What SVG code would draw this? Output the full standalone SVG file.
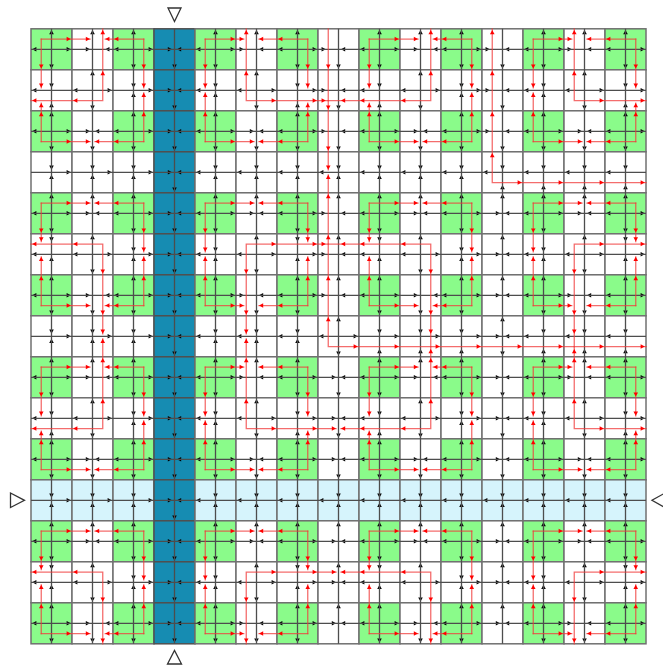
<svg xmlns="http://www.w3.org/2000/svg" width="663" height="667" viewBox="0 0 663 667">
<style>
.bl{stroke:#4d4d4d;stroke-width:1.3;fill:none}
.rl{stroke:#f03c3c;stroke-opacity:.75;stroke-width:1.3;fill:none;stroke-linecap:square}
.tri{fill:#fff;stroke:#333;stroke-width:1.3}
</style>
<defs>
<path id="r" d="M0,0l-4.2,-2.3v4.6z"/>
<path id="l" d="M0,0l4.2,-2.3v4.6z"/>
<path id="d" d="M0,0l-2.3,-4.2h4.6z"/>
<path id="u" d="M0,0l-2.3,4.2h4.6z"/>
<rect id="sg" width="41" height="41" fill="#8afb8a" stroke="#707070" stroke-width="1.5"/>
<rect id="sw" width="41" height="41" fill="#ffffff" stroke="#707070" stroke-width="1.5"/>
<rect id="sb" width="41" height="41" fill="#168cb2" stroke="#505050" stroke-width="1.5"/>
<rect id="sl" width="41" height="41" fill="#d6f4fc" stroke="#707070" stroke-width="1.5"/>
<g id="o4"><use href="#u" x="20.5" y="1.2"/><use href="#d" x="20.5" y="39.8"/><use href="#l" x="1.2" y="20.5"/><use href="#r" x="39.8" y="20.5"/></g>
<g id="L7"><use href="#u" x="20.5" y="1.2"/><use href="#d" x="20.5" y="39.8"/><use href="#r" x="18" y="20.5"/><use href="#l" x="23" y="20.5"/></g>
<g id="CN"><use href="#u" x="20.5" y="1.2"/><use href="#r" x="18" y="20.5"/><use href="#l" x="23" y="20.5"/></g>
<g id="CNe"><use href="#u" x="20.5" y="1.2"/><use href="#r" x="18" y="20.5"/><use href="#l" x="33.25" y="20.5"/></g>
<g id="CNw"><use href="#u" x="20.5" y="1.2"/><use href="#r" x="7.75" y="20.5"/><use href="#l" x="23" y="20.5"/></g>
<g id="CS"><use href="#d" x="20.5" y="39.8"/><use href="#r" x="18" y="20.5"/><use href="#l" x="23" y="20.5"/></g>
<g id="CSe"><use href="#d" x="20.5" y="39.8"/><use href="#r" x="18" y="20.5"/><use href="#l" x="33.25" y="20.5"/></g>
<g id="CSw"><use href="#d" x="20.5" y="39.8"/><use href="#r" x="7.75" y="20.5"/><use href="#l" x="23" y="20.5"/></g>
<g id="DW"><use href="#l" x="1.2" y="20.5"/><use href="#d" x="20.5" y="18"/><use href="#u" x="20.5" y="23"/></g>
<g id="DWs"><use href="#l" x="1.2" y="20.5"/><use href="#d" x="20.5" y="18"/><use href="#u" x="20.5" y="33.25"/></g>
<g id="DWn"><use href="#l" x="1.2" y="20.5"/><use href="#d" x="20.5" y="7.75"/><use href="#u" x="20.5" y="23"/></g>
<g id="DE"><use href="#r" x="39.8" y="20.5"/><use href="#d" x="20.5" y="18"/><use href="#u" x="20.5" y="23"/></g>
<g id="DEs"><use href="#r" x="39.8" y="20.5"/><use href="#d" x="20.5" y="18"/><use href="#u" x="20.5" y="33.25"/></g>
<g id="DEn"><use href="#r" x="39.8" y="20.5"/><use href="#d" x="20.5" y="7.75"/><use href="#u" x="20.5" y="23"/></g>
<g id="HR"><path class="rl" d="M0,0H48.75"/><use href="#r" x="29.55"/><use href="#r" x="48.75"/></g>
<g id="HRs"><path class="rl" d="M0,0H38.5"/><use href="#r" x="29.55"/><use href="#r" x="38.5"/></g>
<g id="HL"><path class="rl" d="M0,0H-48.75"/><use href="#l" x="-29.55"/><use href="#l" x="-48.75"/></g>
<g id="HLs"><path class="rl" d="M0,0H-38.5"/><use href="#l" x="-29.55"/><use href="#l" x="-38.5"/></g>
<g id="VD"><path class="rl" d="M0,0V48.75"/><use href="#d" y="29.55"/><use href="#d" y="48.75"/></g>
<g id="VDs"><path class="rl" d="M0,0V38.5"/><use href="#d" y="29.55"/><use href="#d" y="38.5"/></g>
<g id="VU"><path class="rl" d="M0,0V-48.75"/><use href="#u" y="-29.55"/><use href="#u" y="-48.75"/></g>
<g id="VUs"><path class="rl" d="M0,0V-38.5"/><use href="#u" y="-29.55"/><use href="#u" y="-38.5"/></g>
</defs>
<rect width="663" height="667" fill="#ffffff"/>
<g transform="translate(31,28.8)">
<g id="cells">
<g id="n0-0" transform="translate(0,0)"><use href="#sg"/><use href="#o4"/></g>
<g id="n0-1" transform="translate(41,0)"><use href="#sw"/><use href="#CNe"/></g>
<g id="n0-2" transform="translate(82,0)"><use href="#sg"/><use href="#o4"/></g>
<g id="n0-3" transform="translate(123,0)"><use href="#sb"/><use href="#CS"/></g>
<g id="n0-4" transform="translate(164,0)"><use href="#sg"/><use href="#o4"/></g>
<g id="n0-5" transform="translate(205,0)"><use href="#sw"/><use href="#CNw"/></g>
<g id="n0-6" transform="translate(246,0)"><use href="#sg"/><use href="#o4"/></g>
<g id="n0-7" transform="translate(287,0)"><use href="#sw"/><use href="#CSw"/></g>
<g id="n0-8" transform="translate(328,0)"><use href="#sg"/><use href="#o4"/></g>
<g id="n0-9" transform="translate(369,0)"><use href="#sw"/><use href="#CNe"/></g>
<g id="n0-10" transform="translate(410,0)"><use href="#sg"/><use href="#o4"/></g>
<g id="n0-11" transform="translate(451,0)"><use href="#sw"/><use href="#CSw"/></g>
<g id="n0-12" transform="translate(492,0)"><use href="#sg"/><use href="#o4"/></g>
<g id="n0-13" transform="translate(533,0)"><use href="#sw"/><use href="#CNw"/></g>
<g id="n0-14" transform="translate(574,0)"><use href="#sg"/><use href="#o4"/></g>
<g id="n1-0" transform="translate(0,41)"><use href="#sw"/><use href="#DWs"/></g>
<g id="n1-1" transform="translate(41,41)"><use href="#sw"/><use href="#o4"/></g>
<g id="n1-2" transform="translate(82,41)"><use href="#sw"/><use href="#DE"/></g>
<g id="n1-3" transform="translate(123,41)"><use href="#sb"/><use href="#CS"/></g>
<g id="n1-4" transform="translate(164,41)"><use href="#sw"/><use href="#DW"/></g>
<g id="n1-5" transform="translate(205,41)"><use href="#sw"/><use href="#o4"/></g>
<g id="n1-6" transform="translate(246,41)"><use href="#sw"/><use href="#DEs"/></g>
<g id="n1-7" transform="translate(287,41)"><use href="#sw"/><use href="#CSw"/></g>
<g id="n1-8" transform="translate(328,41)"><use href="#sw"/><use href="#DWs"/></g>
<g id="n1-9" transform="translate(369,41)"><use href="#sw"/><use href="#o4"/></g>
<g id="n1-10" transform="translate(410,41)"><use href="#sw"/><use href="#DE"/></g>
<g id="n1-11" transform="translate(451,41)"><use href="#sw"/><use href="#CSw"/></g>
<g id="n1-12" transform="translate(492,41)"><use href="#sw"/><use href="#DW"/></g>
<g id="n1-13" transform="translate(533,41)"><use href="#sw"/><use href="#o4"/></g>
<g id="n1-14" transform="translate(574,41)"><use href="#sw"/><use href="#DEs"/></g>
<g id="n2-0" transform="translate(0,82)"><use href="#sg"/><use href="#o4"/></g>
<g id="n2-1" transform="translate(41,82)"><use href="#sw"/><use href="#CS"/></g>
<g id="n2-2" transform="translate(82,82)"><use href="#sg"/><use href="#o4"/></g>
<g id="n2-3" transform="translate(123,82)"><use href="#sb"/><use href="#CS"/></g>
<g id="n2-4" transform="translate(164,82)"><use href="#sg"/><use href="#o4"/></g>
<g id="n2-5" transform="translate(205,82)"><use href="#sw"/><use href="#CS"/></g>
<g id="n2-6" transform="translate(246,82)"><use href="#sg"/><use href="#o4"/></g>
<g id="n2-7" transform="translate(287,82)"><use href="#sw"/><use href="#CSw"/></g>
<g id="n2-8" transform="translate(328,82)"><use href="#sg"/><use href="#o4"/></g>
<g id="n2-9" transform="translate(369,82)"><use href="#sw"/><use href="#CS"/></g>
<g id="n2-10" transform="translate(410,82)"><use href="#sg"/><use href="#o4"/></g>
<g id="n2-11" transform="translate(451,82)"><use href="#sw"/><use href="#CSw"/></g>
<g id="n2-12" transform="translate(492,82)"><use href="#sg"/><use href="#o4"/></g>
<g id="n2-13" transform="translate(533,82)"><use href="#sw"/><use href="#CS"/></g>
<g id="n2-14" transform="translate(574,82)"><use href="#sg"/><use href="#o4"/></g>
<g id="n3-0" transform="translate(0,123)"><use href="#sw"/><use href="#DE"/></g>
<g id="n3-1" transform="translate(41,123)"><use href="#sw"/><use href="#DE"/></g>
<g id="n3-2" transform="translate(82,123)"><use href="#sw"/><use href="#DE"/></g>
<g id="n3-3" transform="translate(123,123)"><use href="#sb"/><use href="#CS"/></g>
<g id="n3-4" transform="translate(164,123)"><use href="#sw"/><use href="#DW"/></g>
<g id="n3-5" transform="translate(205,123)"><use href="#sw"/><use href="#DW"/></g>
<g id="n3-6" transform="translate(246,123)"><use href="#sw"/><use href="#DW"/></g>
<g id="n3-7" transform="translate(287,123)"><use href="#sw"/><use href="#DW"/></g>
<g id="n3-8" transform="translate(328,123)"><use href="#sw"/><use href="#DW"/></g>
<g id="n3-9" transform="translate(369,123)"><use href="#sw"/><use href="#DW"/></g>
<g id="n3-10" transform="translate(410,123)"><use href="#sw"/><use href="#DW"/></g>
<g id="n3-11" transform="translate(451,123)"><use href="#sw"/><use href="#DWs"/></g>
<g id="n3-12" transform="translate(492,123)"><use href="#sw"/><use href="#DWs"/></g>
<g id="n3-13" transform="translate(533,123)"><use href="#sw"/><use href="#DWs"/></g>
<g id="n3-14" transform="translate(574,123)"><use href="#sw"/><use href="#DWs"/></g>
<g id="n4-0" transform="translate(0,164)"><use href="#sg"/><use href="#o4"/></g>
<g id="n4-1" transform="translate(41,164)"><use href="#sw"/><use href="#CN"/></g>
<g id="n4-2" transform="translate(82,164)"><use href="#sg"/><use href="#o4"/></g>
<g id="n4-3" transform="translate(123,164)"><use href="#sb"/><use href="#CS"/></g>
<g id="n4-4" transform="translate(164,164)"><use href="#sg"/><use href="#o4"/></g>
<g id="n4-5" transform="translate(205,164)"><use href="#sw"/><use href="#CN"/></g>
<g id="n4-6" transform="translate(246,164)"><use href="#sg"/><use href="#o4"/></g>
<g id="n4-7" transform="translate(287,164)"><use href="#sw"/><use href="#CNw"/></g>
<g id="n4-8" transform="translate(328,164)"><use href="#sg"/><use href="#o4"/></g>
<g id="n4-9" transform="translate(369,164)"><use href="#sw"/><use href="#CN"/></g>
<g id="n4-10" transform="translate(410,164)"><use href="#sg"/><use href="#o4"/></g>
<g id="n4-11" transform="translate(451,164)"><use href="#sw"/><use href="#CN"/></g>
<g id="n4-12" transform="translate(492,164)"><use href="#sg"/><use href="#o4"/></g>
<g id="n4-13" transform="translate(533,164)"><use href="#sw"/><use href="#CN"/></g>
<g id="n4-14" transform="translate(574,164)"><use href="#sg"/><use href="#o4"/></g>
<g id="n5-0" transform="translate(0,205)"><use href="#sw"/><use href="#DWn"/></g>
<g id="n5-1" transform="translate(41,205)"><use href="#sw"/><use href="#o4"/></g>
<g id="n5-2" transform="translate(82,205)"><use href="#sw"/><use href="#DE"/></g>
<g id="n5-3" transform="translate(123,205)"><use href="#sb"/><use href="#CS"/></g>
<g id="n5-4" transform="translate(164,205)"><use href="#sw"/><use href="#DW"/></g>
<g id="n5-5" transform="translate(205,205)"><use href="#sw"/><use href="#o4"/></g>
<g id="n5-6" transform="translate(246,205)"><use href="#sw"/><use href="#DEn"/></g>
<g id="n5-7" transform="translate(287,205)"><use href="#sw"/><use href="#CNw"/></g>
<g id="n5-8" transform="translate(328,205)"><use href="#sw"/><use href="#DWn"/></g>
<g id="n5-9" transform="translate(369,205)"><use href="#sw"/><use href="#o4"/></g>
<g id="n5-10" transform="translate(410,205)"><use href="#sw"/><use href="#DE"/></g>
<g id="n5-11" transform="translate(451,205)"><use href="#sw"/><use href="#CN"/></g>
<g id="n5-12" transform="translate(492,205)"><use href="#sw"/><use href="#DW"/></g>
<g id="n5-13" transform="translate(533,205)"><use href="#sw"/><use href="#o4"/></g>
<g id="n5-14" transform="translate(574,205)"><use href="#sw"/><use href="#DEn"/></g>
<g id="n6-0" transform="translate(0,246)"><use href="#sg"/><use href="#o4"/></g>
<g id="n6-1" transform="translate(41,246)"><use href="#sw"/><use href="#CSe"/></g>
<g id="n6-2" transform="translate(82,246)"><use href="#sg"/><use href="#o4"/></g>
<g id="n6-3" transform="translate(123,246)"><use href="#sb"/><use href="#CS"/></g>
<g id="n6-4" transform="translate(164,246)"><use href="#sg"/><use href="#o4"/></g>
<g id="n6-5" transform="translate(205,246)"><use href="#sw"/><use href="#CSw"/></g>
<g id="n6-6" transform="translate(246,246)"><use href="#sg"/><use href="#o4"/></g>
<g id="n6-7" transform="translate(287,246)"><use href="#sw"/><use href="#CNw"/></g>
<g id="n6-8" transform="translate(328,246)"><use href="#sg"/><use href="#o4"/></g>
<g id="n6-9" transform="translate(369,246)"><use href="#sw"/><use href="#CSe"/></g>
<g id="n6-10" transform="translate(410,246)"><use href="#sg"/><use href="#o4"/></g>
<g id="n6-11" transform="translate(451,246)"><use href="#sw"/><use href="#CN"/></g>
<g id="n6-12" transform="translate(492,246)"><use href="#sg"/><use href="#o4"/></g>
<g id="n6-13" transform="translate(533,246)"><use href="#sw"/><use href="#CSw"/></g>
<g id="n6-14" transform="translate(574,246)"><use href="#sg"/><use href="#o4"/></g>
<g id="n7-0" transform="translate(0,287)"><use href="#sw"/><use href="#DE"/></g>
<g id="n7-1" transform="translate(41,287)"><use href="#sw"/><use href="#DE"/></g>
<g id="n7-2" transform="translate(82,287)"><use href="#sw"/><use href="#DE"/></g>
<g id="n7-3" transform="translate(123,287)"><use href="#sb"/><use href="#CS"/></g>
<g id="n7-4" transform="translate(164,287)"><use href="#sw"/><use href="#DW"/></g>
<g id="n7-5" transform="translate(205,287)"><use href="#sw"/><use href="#DW"/></g>
<g id="n7-6" transform="translate(246,287)"><use href="#sw"/><use href="#DW"/></g>
<g id="n7-7" transform="translate(287,287)"><use href="#sw"/><use href="#o4"/></g>
<g id="n7-8" transform="translate(328,287)"><use href="#sw"/><use href="#DEs"/></g>
<g id="n7-9" transform="translate(369,287)"><use href="#sw"/><use href="#DEs"/></g>
<g id="n7-10" transform="translate(410,287)"><use href="#sw"/><use href="#DEs"/></g>
<g id="n7-11" transform="translate(451,287)"><use href="#sw"/><use href="#L7"/></g>
<g id="n7-12" transform="translate(492,287)"><use href="#sw"/><use href="#DWs"/></g>
<g id="n7-13" transform="translate(533,287)"><use href="#sw"/><use href="#DWs"/></g>
<g id="n7-14" transform="translate(574,287)"><use href="#sw"/><use href="#DWs"/></g>
<g id="n8-0" transform="translate(0,328)"><use href="#sg"/><use href="#o4"/></g>
<g id="n8-1" transform="translate(41,328)"><use href="#sw"/><use href="#CNe"/></g>
<g id="n8-2" transform="translate(82,328)"><use href="#sg"/><use href="#o4"/></g>
<g id="n8-3" transform="translate(123,328)"><use href="#sb"/><use href="#CS"/></g>
<g id="n8-4" transform="translate(164,328)"><use href="#sg"/><use href="#o4"/></g>
<g id="n8-5" transform="translate(205,328)"><use href="#sw"/><use href="#CNw"/></g>
<g id="n8-6" transform="translate(246,328)"><use href="#sg"/><use href="#o4"/></g>
<g id="n8-7" transform="translate(287,328)"><use href="#sw"/><use href="#CS"/></g>
<g id="n8-8" transform="translate(328,328)"><use href="#sg"/><use href="#o4"/></g>
<g id="n8-9" transform="translate(369,328)"><use href="#sw"/><use href="#CNe"/></g>
<g id="n8-10" transform="translate(410,328)"><use href="#sg"/><use href="#o4"/></g>
<g id="n8-11" transform="translate(451,328)"><use href="#sw"/><use href="#CS"/></g>
<g id="n8-12" transform="translate(492,328)"><use href="#sg"/><use href="#o4"/></g>
<g id="n8-13" transform="translate(533,328)"><use href="#sw"/><use href="#CNw"/></g>
<g id="n8-14" transform="translate(574,328)"><use href="#sg"/><use href="#o4"/></g>
<g id="n9-0" transform="translate(0,369)"><use href="#sw"/><use href="#DWs"/></g>
<g id="n9-1" transform="translate(41,369)"><use href="#sw"/><use href="#o4"/></g>
<g id="n9-2" transform="translate(82,369)"><use href="#sw"/><use href="#DE"/></g>
<g id="n9-3" transform="translate(123,369)"><use href="#sb"/><use href="#CS"/></g>
<g id="n9-4" transform="translate(164,369)"><use href="#sw"/><use href="#DW"/></g>
<g id="n9-5" transform="translate(205,369)"><use href="#sw"/><use href="#o4"/></g>
<g id="n9-6" transform="translate(246,369)"><use href="#sw"/><use href="#DEs"/></g>
<g id="n9-7" transform="translate(287,369)"><use href="#sw"/><use href="#CS"/></g>
<g id="n9-8" transform="translate(328,369)"><use href="#sw"/><use href="#DWs"/></g>
<g id="n9-9" transform="translate(369,369)"><use href="#sw"/><use href="#o4"/></g>
<g id="n9-10" transform="translate(410,369)"><use href="#sw"/><use href="#DE"/></g>
<g id="n9-11" transform="translate(451,369)"><use href="#sw"/><use href="#CS"/></g>
<g id="n9-12" transform="translate(492,369)"><use href="#sw"/><use href="#DW"/></g>
<g id="n9-13" transform="translate(533,369)"><use href="#sw"/><use href="#o4"/></g>
<g id="n9-14" transform="translate(574,369)"><use href="#sw"/><use href="#DEs"/></g>
<g id="n10-0" transform="translate(0,410)"><use href="#sg"/><use href="#o4"/></g>
<g id="n10-1" transform="translate(41,410)"><use href="#sw"/><use href="#CS"/></g>
<g id="n10-2" transform="translate(82,410)"><use href="#sg"/><use href="#o4"/></g>
<g id="n10-3" transform="translate(123,410)"><use href="#sb"/><use href="#CS"/></g>
<g id="n10-4" transform="translate(164,410)"><use href="#sg"/><use href="#o4"/></g>
<g id="n10-5" transform="translate(205,410)"><use href="#sw"/><use href="#CS"/></g>
<g id="n10-6" transform="translate(246,410)"><use href="#sg"/><use href="#o4"/></g>
<g id="n10-7" transform="translate(287,410)"><use href="#sw"/><use href="#CS"/></g>
<g id="n10-8" transform="translate(328,410)"><use href="#sg"/><use href="#o4"/></g>
<g id="n10-9" transform="translate(369,410)"><use href="#sw"/><use href="#CS"/></g>
<g id="n10-10" transform="translate(410,410)"><use href="#sg"/><use href="#o4"/></g>
<g id="n10-11" transform="translate(451,410)"><use href="#sw"/><use href="#CS"/></g>
<g id="n10-12" transform="translate(492,410)"><use href="#sg"/><use href="#o4"/></g>
<g id="n10-13" transform="translate(533,410)"><use href="#sw"/><use href="#CS"/></g>
<g id="n10-14" transform="translate(574,410)"><use href="#sg"/><use href="#o4"/></g>
<g id="n11-0" transform="translate(0,451)"><use href="#sl"/><use href="#DE"/></g>
<g id="n11-1" transform="translate(41,451)"><use href="#sl"/><use href="#DE"/></g>
<g id="n11-2" transform="translate(82,451)"><use href="#sl"/><use href="#DE"/></g>
<g id="n11-3" transform="translate(123,451)"><use href="#sb"/><use href="#CS"/></g>
<g id="n11-4" transform="translate(164,451)"><use href="#sl"/><use href="#DW"/></g>
<g id="n11-5" transform="translate(205,451)"><use href="#sl"/><use href="#DW"/></g>
<g id="n11-6" transform="translate(246,451)"><use href="#sl"/><use href="#DW"/></g>
<g id="n11-7" transform="translate(287,451)"><use href="#sl"/><use href="#DW"/></g>
<g id="n11-8" transform="translate(328,451)"><use href="#sl"/><use href="#DW"/></g>
<g id="n11-9" transform="translate(369,451)"><use href="#sl"/><use href="#DW"/></g>
<g id="n11-10" transform="translate(410,451)"><use href="#sl"/><use href="#DW"/></g>
<g id="n11-11" transform="translate(451,451)"><use href="#sl"/><use href="#DW"/></g>
<g id="n11-12" transform="translate(492,451)"><use href="#sl"/><use href="#DW"/></g>
<g id="n11-13" transform="translate(533,451)"><use href="#sl"/><use href="#DW"/></g>
<g id="n11-14" transform="translate(574,451)"><use href="#sl"/><use href="#DW"/></g>
<g id="n12-0" transform="translate(0,492)"><use href="#sg"/><use href="#o4"/></g>
<g id="n12-1" transform="translate(41,492)"><use href="#sw"/><use href="#CN"/></g>
<g id="n12-2" transform="translate(82,492)"><use href="#sg"/><use href="#o4"/></g>
<g id="n12-3" transform="translate(123,492)"><use href="#sb"/><use href="#CS"/></g>
<g id="n12-4" transform="translate(164,492)"><use href="#sg"/><use href="#o4"/></g>
<g id="n12-5" transform="translate(205,492)"><use href="#sw"/><use href="#CN"/></g>
<g id="n12-6" transform="translate(246,492)"><use href="#sg"/><use href="#o4"/></g>
<g id="n12-7" transform="translate(287,492)"><use href="#sw"/><use href="#CN"/></g>
<g id="n12-8" transform="translate(328,492)"><use href="#sg"/><use href="#o4"/></g>
<g id="n12-9" transform="translate(369,492)"><use href="#sw"/><use href="#CN"/></g>
<g id="n12-10" transform="translate(410,492)"><use href="#sg"/><use href="#o4"/></g>
<g id="n12-11" transform="translate(451,492)"><use href="#sw"/><use href="#CN"/></g>
<g id="n12-12" transform="translate(492,492)"><use href="#sg"/><use href="#o4"/></g>
<g id="n12-13" transform="translate(533,492)"><use href="#sw"/><use href="#CN"/></g>
<g id="n12-14" transform="translate(574,492)"><use href="#sg"/><use href="#o4"/></g>
<g id="n13-0" transform="translate(0,533)"><use href="#sw"/><use href="#DWn"/></g>
<g id="n13-1" transform="translate(41,533)"><use href="#sw"/><use href="#o4"/></g>
<g id="n13-2" transform="translate(82,533)"><use href="#sw"/><use href="#DE"/></g>
<g id="n13-3" transform="translate(123,533)"><use href="#sb"/><use href="#CS"/></g>
<g id="n13-4" transform="translate(164,533)"><use href="#sw"/><use href="#DW"/></g>
<g id="n13-5" transform="translate(205,533)"><use href="#sw"/><use href="#o4"/></g>
<g id="n13-6" transform="translate(246,533)"><use href="#sw"/><use href="#DEn"/></g>
<g id="n13-7" transform="translate(287,533)"><use href="#sw"/><use href="#CN"/></g>
<g id="n13-8" transform="translate(328,533)"><use href="#sw"/><use href="#DWn"/></g>
<g id="n13-9" transform="translate(369,533)"><use href="#sw"/><use href="#o4"/></g>
<g id="n13-10" transform="translate(410,533)"><use href="#sw"/><use href="#DE"/></g>
<g id="n13-11" transform="translate(451,533)"><use href="#sw"/><use href="#CN"/></g>
<g id="n13-12" transform="translate(492,533)"><use href="#sw"/><use href="#DW"/></g>
<g id="n13-13" transform="translate(533,533)"><use href="#sw"/><use href="#o4"/></g>
<g id="n13-14" transform="translate(574,533)"><use href="#sw"/><use href="#DEn"/></g>
<g id="n14-0" transform="translate(0,574)"><use href="#sg"/><use href="#o4"/></g>
<g id="n14-1" transform="translate(41,574)"><use href="#sw"/><use href="#CSe"/></g>
<g id="n14-2" transform="translate(82,574)"><use href="#sg"/><use href="#o4"/></g>
<g id="n14-3" transform="translate(123,574)"><use href="#sb"/><use href="#CS"/></g>
<g id="n14-4" transform="translate(164,574)"><use href="#sg"/><use href="#o4"/></g>
<g id="n14-5" transform="translate(205,574)"><use href="#sw"/><use href="#CSw"/></g>
<g id="n14-6" transform="translate(246,574)"><use href="#sg"/><use href="#o4"/></g>
<g id="n14-7" transform="translate(287,574)"><use href="#sw"/><use href="#CN"/></g>
<g id="n14-8" transform="translate(328,574)"><use href="#sg"/><use href="#o4"/></g>
<g id="n14-9" transform="translate(369,574)"><use href="#sw"/><use href="#CSe"/></g>
<g id="n14-10" transform="translate(410,574)"><use href="#sg"/><use href="#o4"/></g>
<g id="n14-11" transform="translate(451,574)"><use href="#sw"/><use href="#CN"/></g>
<g id="n14-12" transform="translate(492,574)"><use href="#sg"/><use href="#o4"/></g>
<g id="n14-13" transform="translate(533,574)"><use href="#sw"/><use href="#CSw"/></g>
<g id="n14-14" transform="translate(574,574)"><use href="#sg"/><use href="#o4"/></g>
</g>
<g id="connectors">
<path class="bl" d="M0,20.5H615M0,61.5H615M0,102.5H615M0,143.5H615M0,184.5H615M0,225.5H615M0,266.5H615M0,307.5H615M0,348.5H615M0,389.5H615M0,430.5H615M0,471.5H615M0,512.5H615M0,553.5H615M0,594.5H615M20.5,0V615M61.5,0V615M102.5,0V615M143.5,0V615M184.5,0V615M225.5,0V615M266.5,0V615M307.5,0V615M348.5,0V615M389.5,0V615M430.5,0V615M471.5,0V615M512.5,0V615M553.5,0V615M594.5,0V615"/>
<g id="red" fill="#f00">
<use href="#HR" x="10.25" y="10.25"/><use href="#VD" x="10.25" y="10.25"/>
<use href="#HLs" x="112.75" y="10.25"/><use href="#VD" x="112.75" y="10.25"/>
<use href="#HRs" x="174.25" y="10.25"/><use href="#VD" x="174.25" y="10.25"/>
<use href="#HL" x="276.75" y="10.25"/><use href="#VD" x="276.75" y="10.25"/>
<use href="#HR" x="338.25" y="10.25"/><use href="#VD" x="338.25" y="10.25"/>
<use href="#HLs" x="440.75" y="10.25"/><use href="#VD" x="440.75" y="10.25"/>
<use href="#HRs" x="502.25" y="10.25"/><use href="#VD" x="502.25" y="10.25"/>
<use href="#HL" x="604.75" y="10.25"/><use href="#VD" x="604.75" y="10.25"/>
<use href="#HR" x="10.25" y="112.75"/><use href="#VUs" x="10.25" y="112.75"/>
<use href="#HL" x="112.75" y="112.75"/><use href="#VU" x="112.75" y="112.75"/>
<use href="#HR" x="174.25" y="112.75"/><use href="#VU" x="174.25" y="112.75"/>
<use href="#HL" x="276.75" y="112.75"/><use href="#VUs" x="276.75" y="112.75"/>
<use href="#HR" x="338.25" y="112.75"/><use href="#VUs" x="338.25" y="112.75"/>
<use href="#HL" x="440.75" y="112.75"/><use href="#VU" x="440.75" y="112.75"/>
<use href="#HR" x="502.25" y="112.75"/><use href="#VU" x="502.25" y="112.75"/>
<use href="#HL" x="604.75" y="112.75"/><use href="#VUs" x="604.75" y="112.75"/>
<use href="#HR" x="10.25" y="174.25"/><use href="#VDs" x="10.25" y="174.25"/>
<use href="#HL" x="112.75" y="174.25"/><use href="#VD" x="112.75" y="174.25"/>
<use href="#HR" x="174.25" y="174.25"/><use href="#VD" x="174.25" y="174.25"/>
<use href="#HL" x="276.75" y="174.25"/><use href="#VDs" x="276.75" y="174.25"/>
<use href="#HR" x="338.25" y="174.25"/><use href="#VDs" x="338.25" y="174.25"/>
<use href="#HL" x="440.75" y="174.25"/><use href="#VD" x="440.75" y="174.25"/>
<use href="#HR" x="502.25" y="174.25"/><use href="#VD" x="502.25" y="174.25"/>
<use href="#HL" x="604.75" y="174.25"/><use href="#VDs" x="604.75" y="174.25"/>
<use href="#HR" x="10.25" y="276.75"/><use href="#VU" x="10.25" y="276.75"/>
<use href="#HLs" x="112.75" y="276.75"/><use href="#VU" x="112.75" y="276.75"/>
<use href="#HRs" x="174.25" y="276.75"/><use href="#VU" x="174.25" y="276.75"/>
<use href="#HL" x="276.75" y="276.75"/><use href="#VU" x="276.75" y="276.75"/>
<use href="#HR" x="338.25" y="276.75"/><use href="#VU" x="338.25" y="276.75"/>
<use href="#HLs" x="440.75" y="276.75"/><use href="#VU" x="440.75" y="276.75"/>
<use href="#HRs" x="502.25" y="276.75"/><use href="#VU" x="502.25" y="276.75"/>
<use href="#HL" x="604.75" y="276.75"/><use href="#VU" x="604.75" y="276.75"/>
<use href="#HR" x="10.25" y="338.25"/><use href="#VD" x="10.25" y="338.25"/>
<use href="#HLs" x="112.75" y="338.25"/><use href="#VD" x="112.75" y="338.25"/>
<use href="#HRs" x="174.25" y="338.25"/><use href="#VD" x="174.25" y="338.25"/>
<use href="#HL" x="276.75" y="338.25"/><use href="#VD" x="276.75" y="338.25"/>
<use href="#HR" x="338.25" y="338.25"/><use href="#VD" x="338.25" y="338.25"/>
<use href="#HLs" x="440.75" y="338.25"/><use href="#VD" x="440.75" y="338.25"/>
<use href="#HRs" x="502.25" y="338.25"/><use href="#VD" x="502.25" y="338.25"/>
<use href="#HL" x="604.75" y="338.25"/><use href="#VD" x="604.75" y="338.25"/>
<use href="#HR" x="10.25" y="440.75"/><use href="#VUs" x="10.25" y="440.75"/>
<use href="#HL" x="112.75" y="440.75"/><use href="#VU" x="112.75" y="440.75"/>
<use href="#HR" x="174.25" y="440.75"/><use href="#VU" x="174.25" y="440.75"/>
<use href="#HL" x="276.75" y="440.75"/><use href="#VUs" x="276.75" y="440.75"/>
<use href="#HR" x="338.25" y="440.75"/><use href="#VUs" x="338.25" y="440.75"/>
<use href="#HL" x="440.75" y="440.75"/><use href="#VU" x="440.75" y="440.75"/>
<use href="#HR" x="502.25" y="440.75"/><use href="#VU" x="502.25" y="440.75"/>
<use href="#HL" x="604.75" y="440.75"/><use href="#VUs" x="604.75" y="440.75"/>
<use href="#HR" x="10.25" y="502.25"/><use href="#VDs" x="10.25" y="502.25"/>
<use href="#HL" x="112.75" y="502.25"/><use href="#VD" x="112.75" y="502.25"/>
<use href="#HR" x="174.25" y="502.25"/><use href="#VD" x="174.25" y="502.25"/>
<use href="#HL" x="276.75" y="502.25"/><use href="#VDs" x="276.75" y="502.25"/>
<use href="#HR" x="338.25" y="502.25"/><use href="#VDs" x="338.25" y="502.25"/>
<use href="#HL" x="440.75" y="502.25"/><use href="#VD" x="440.75" y="502.25"/>
<use href="#HR" x="502.25" y="502.25"/><use href="#VD" x="502.25" y="502.25"/>
<use href="#HL" x="604.75" y="502.25"/><use href="#VDs" x="604.75" y="502.25"/>
<use href="#HR" x="10.25" y="604.75"/><use href="#VU" x="10.25" y="604.75"/>
<use href="#HLs" x="112.75" y="604.75"/><use href="#VU" x="112.75" y="604.75"/>
<use href="#HRs" x="174.25" y="604.75"/><use href="#VU" x="174.25" y="604.75"/>
<use href="#HL" x="276.75" y="604.75"/><use href="#VU" x="276.75" y="604.75"/>
<use href="#HR" x="338.25" y="604.75"/><use href="#VU" x="338.25" y="604.75"/>
<use href="#HLs" x="440.75" y="604.75"/><use href="#VU" x="440.75" y="604.75"/>
<use href="#HRs" x="502.25" y="604.75"/><use href="#VU" x="502.25" y="604.75"/>
<use href="#HL" x="604.75" y="604.75"/><use href="#VU" x="604.75" y="604.75"/>

<path class="rl" d="M71.75,0V71.75H0"/>
<use href="#u" x="71.75" y="42.2"/><use href="#u" x="71.75" y="1.2"/><use href="#l" x="42.2" y="71.75"/><use href="#l" x="1.2" y="71.75"/>
<path class="rl" d="M215.25,0V71.75H297.25"/>
<use href="#u" x="215.25" y="42.2"/><use href="#u" x="215.25" y="1.2"/><use href="#r" x="244.8" y="71.75"/><use href="#r" x="285.8" y="71.75"/><use href="#r" x="294.75" y="71.75"/>
<path class="rl" d="M399.75,0V71.75H297.25"/>
<use href="#u" x="399.75" y="42.2"/><use href="#u" x="399.75" y="1.2"/><use href="#l" x="370.2" y="71.75"/><use href="#l" x="329.2" y="71.75"/><use href="#l" x="310" y="71.75"/>
<path class="rl" d="M543.25,0V71.75H615"/>
<use href="#u" x="543.25" y="42.2"/><use href="#u" x="543.25" y="1.2"/><use href="#r" x="572.8" y="71.75"/><use href="#r" x="613.8" y="71.75"/>
<path class="rl" d="M0,215.25H71.75V305"/>
<use href="#l" x="42.2" y="215.25"/><use href="#l" x="1.2" y="215.25"/><use href="#d" x="71.75" y="244.8"/><use href="#d" x="71.75" y="285.8"/><use href="#d" x="71.75" y="305"/>
<path class="rl" d="M297.25,215.25H215.25V305"/>
<use href="#r" x="244.8" y="215.25"/><use href="#r" x="285.8" y="215.25"/><use href="#r" x="294.75" y="215.25"/><use href="#d" x="215.25" y="244.8"/><use href="#d" x="215.25" y="285.8"/><use href="#d" x="215.25" y="305"/>
<path class="rl" d="M297.25,215.25H399.75V317.75"/>
<use href="#l" x="370.2" y="215.25"/><use href="#l" x="329.2" y="215.25"/><use href="#l" x="310" y="215.25"/><use href="#d" x="399.75" y="244.8"/><use href="#d" x="399.75" y="285.8"/><use href="#d" x="399.75" y="305"/>
<path class="rl" d="M615,215.25H543.25V317.75"/>
<use href="#r" x="572.8" y="215.25"/><use href="#r" x="613.8" y="215.25"/><use href="#d" x="543.25" y="244.8"/><use href="#d" x="543.25" y="285.8"/><use href="#d" x="543.25" y="305"/>
<path class="rl" d="M0,399.75H71.75V310"/>
<use href="#l" x="42.2" y="399.75"/><use href="#l" x="1.2" y="399.75"/><use href="#u" x="71.75" y="370.2"/><use href="#u" x="71.75" y="329.2"/><use href="#u" x="71.75" y="310"/>
<path class="rl" d="M305,399.75H215.25V310"/>
<use href="#r" x="244.8" y="399.75"/><use href="#r" x="285.8" y="399.75"/><use href="#r" x="305" y="399.75"/><use href="#u" x="215.25" y="370.2"/><use href="#u" x="215.25" y="329.2"/><use href="#u" x="215.25" y="310"/>
<path class="rl" d="M310,399.75H399.75V317.75"/>
<use href="#l" x="370.2" y="399.75"/><use href="#l" x="329.2" y="399.75"/><use href="#l" x="310" y="399.75"/><use href="#u" x="399.75" y="370.2"/><use href="#u" x="399.75" y="329.2"/><use href="#u" x="399.75" y="320.25"/>
<path class="rl" d="M615,399.75H543.25V317.75"/>
<use href="#r" x="572.8" y="399.75"/><use href="#r" x="613.8" y="399.75"/><use href="#u" x="543.25" y="370.2"/><use href="#u" x="543.25" y="329.2"/><use href="#u" x="543.25" y="320.25"/>
<path class="rl" d="M0,543.25H71.75V615"/>
<use href="#l" x="42.2" y="543.25"/><use href="#l" x="1.2" y="543.25"/><use href="#d" x="71.75" y="572.8"/><use href="#d" x="71.75" y="613.8"/>
<path class="rl" d="M305,543.25H215.25V615"/>
<use href="#r" x="244.8" y="543.25"/><use href="#r" x="285.8" y="543.25"/><use href="#r" x="305" y="543.25"/><use href="#d" x="215.25" y="572.8"/><use href="#d" x="215.25" y="613.8"/>
<path class="rl" d="M310,543.25H399.75V615"/>
<use href="#l" x="370.2" y="543.25"/><use href="#l" x="329.2" y="543.25"/><use href="#l" x="310" y="543.25"/><use href="#d" x="399.75" y="572.8"/><use href="#d" x="399.75" y="613.8"/>
<path class="rl" d="M615,543.25H543.25V615"/>
<use href="#r" x="572.8" y="543.25"/><use href="#r" x="613.8" y="543.25"/><use href="#d" x="543.25" y="572.8"/><use href="#d" x="543.25" y="613.8"/>

<path class="rl" d="M461.25,0V153.75H615"/>
<use href="#u" x="461.25" y="124.2"/><use href="#u" x="461.25" y="83.2"/><use href="#u" x="461.25" y="42.2"/><use href="#u" x="461.25" y="1.2"/>
<use href="#r" x="490.8" y="153.75"/><use href="#r" x="531.8" y="153.75"/><use href="#r" x="572.8" y="153.75"/><use href="#r" x="613.8" y="153.75"/>

<path class="rl" d="M297.25,0V141M297.25,146V317.75H615"/>
<use href="#d" x="297.25" y="39.8"/><use href="#d" x="297.25" y="80.8"/><use href="#d" x="297.25" y="121.8"/><use href="#d" x="297.25" y="141"/>
<use href="#u" x="297.25" y="288.2"/><use href="#u" x="297.25" y="247.2"/><use href="#u" x="297.25" y="206.2"/><use href="#u" x="297.25" y="165.2"/><use href="#u" x="297.25" y="146"/>
<use href="#r" x="326.8" y="317.75"/><use href="#r" x="367.8" y="317.75"/><use href="#r" x="408.8" y="317.75"/><use href="#r" x="449.8" y="317.75"/><use href="#r" x="490.8" y="317.75"/><use href="#r" x="531.8" y="317.75"/><use href="#r" x="572.8" y="317.75"/><use href="#r" x="613.8" y="317.75"/>
</g>
</g>
</g>
<g id="markers">
<polygon class="tri" points="168,8 181,8 174.5,21.5"/>
<polygon class="tri" points="167.5,664 181.5,664 174.5,650.5"/>
<polygon class="tri" points="10.5,493 10.5,507.5 24.5,500.3"/>
<polygon class="tri" points="665,493 665,507.5 652,500.3"/>
</g>
</svg>
